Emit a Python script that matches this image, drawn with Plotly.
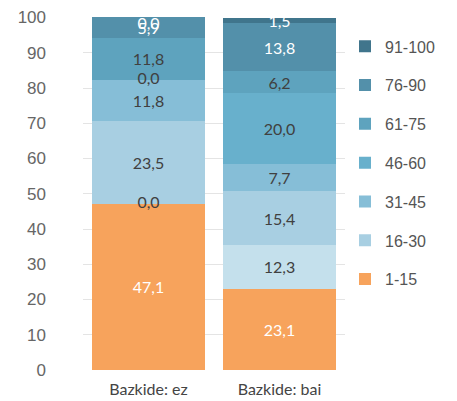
import plotly.graph_objects as go

categories = ["Bazkide: ez", "Bazkide: bai"]
series_names = ["1-15", "", "16-30", "31-45", "46-60", "61-75", "76-90", "91-100"]
series_values = [
    [47.1, 23.1],
    [0.0, 12.3],
    [23.5, 15.4],
    [11.8, 7.7],
    [0.0, 20.0],
    [11.8, 6.2],
    [5.9, 13.8],
    [0.0, 1.5],
]
series_colors = ["#f7a35c", "#c4e0ec", "#a8cfe2", "#86bed7", "#68b0cc", "#5ea3be", "#5390aa", "#40758c"]
label_colors = ["white", "#404040", "#404040", "#404040", "#404040", "#404040", "white", "white"]
show_legend = [True, False, True, True, True, True, True, True]
y_ticks = [0, 10, 20, 30, 40, 50, 60, 70, 80, 90, 100]

label_font = "Lato, Open Sans, sans-serif"

fig = go.Figure()
for i, (name, vals) in enumerate(zip(series_names, series_values)):
    fig.add_trace(go.Bar(
        x=categories, y=vals, name=name,
        marker=dict(color=series_colors[i], line=dict(width=0)),
        text=vals, texttemplate="%{y:.1f}",
        textposition="inside", insidetextanchor="middle",
        constraintext="none",
        textfont=dict(family=label_font, size=16, color=label_colors[i]),
        showlegend=show_legend[i], legendgroup=f"g{i}", legendrank=1000 - i,
        hoverinfo="skip",
    ))

# labels for zero-height segments, placed at their stacked base
base = [0.0 for _ in categories]
n = len(series_values)
for i, vals in enumerate(series_values):
    zx, zy = [], []
    for j, v in enumerate(vals):
        if v == 0:
            zx.append(categories[j])
            zy.append(base[j])
        base[j] += v
    if zx:
        fig.add_trace(go.Scatter(
            x=zx, y=zy, mode="text", text=["0,0"] * len(zx),
            textposition="bottom center" if i == n - 1 else "middle center",
            textfont=dict(family=label_font, size=16, color=label_colors[i]),
            showlegend=False, hoverinfo="skip", cliponaxis=False,
        ))

fig.update_layout(
    barmode="stack",
    bargap=0.135,
    width=449, height=393,
    margin=dict(l=75, r=112, t=9, b=31),
    plot_bgcolor="white", paper_bgcolor="white",
    separators=",.",
    yaxis=dict(range=[0, 100.15], tickvals=y_ticks, showgrid=True, gridcolor="#e4e4e4",
               gridwidth=1, zeroline=False, showline=False, ticks="",
               ticklabeloverflow="allow", automargin=False,
               tickfont=dict(family="Liberation Sans, Arial, sans-serif", size=17, color="#666666"),
               ticklabelstandoff=36),
    xaxis=dict(showline=False, ticks="", ticklabelstandoff=8, automargin=False,
               tickfont=dict(family=label_font, size=16, color="#444444")),
    legend=dict(x=1.0, y=0.965, xanchor="left", yanchor="top",
                tracegroupgap=15,
                font=dict(family="Liberation Sans, Arial, sans-serif", size=16, color="#555555"),
                bgcolor="rgba(0,0,0,0)"),
)

fig.write_html("out.html")
